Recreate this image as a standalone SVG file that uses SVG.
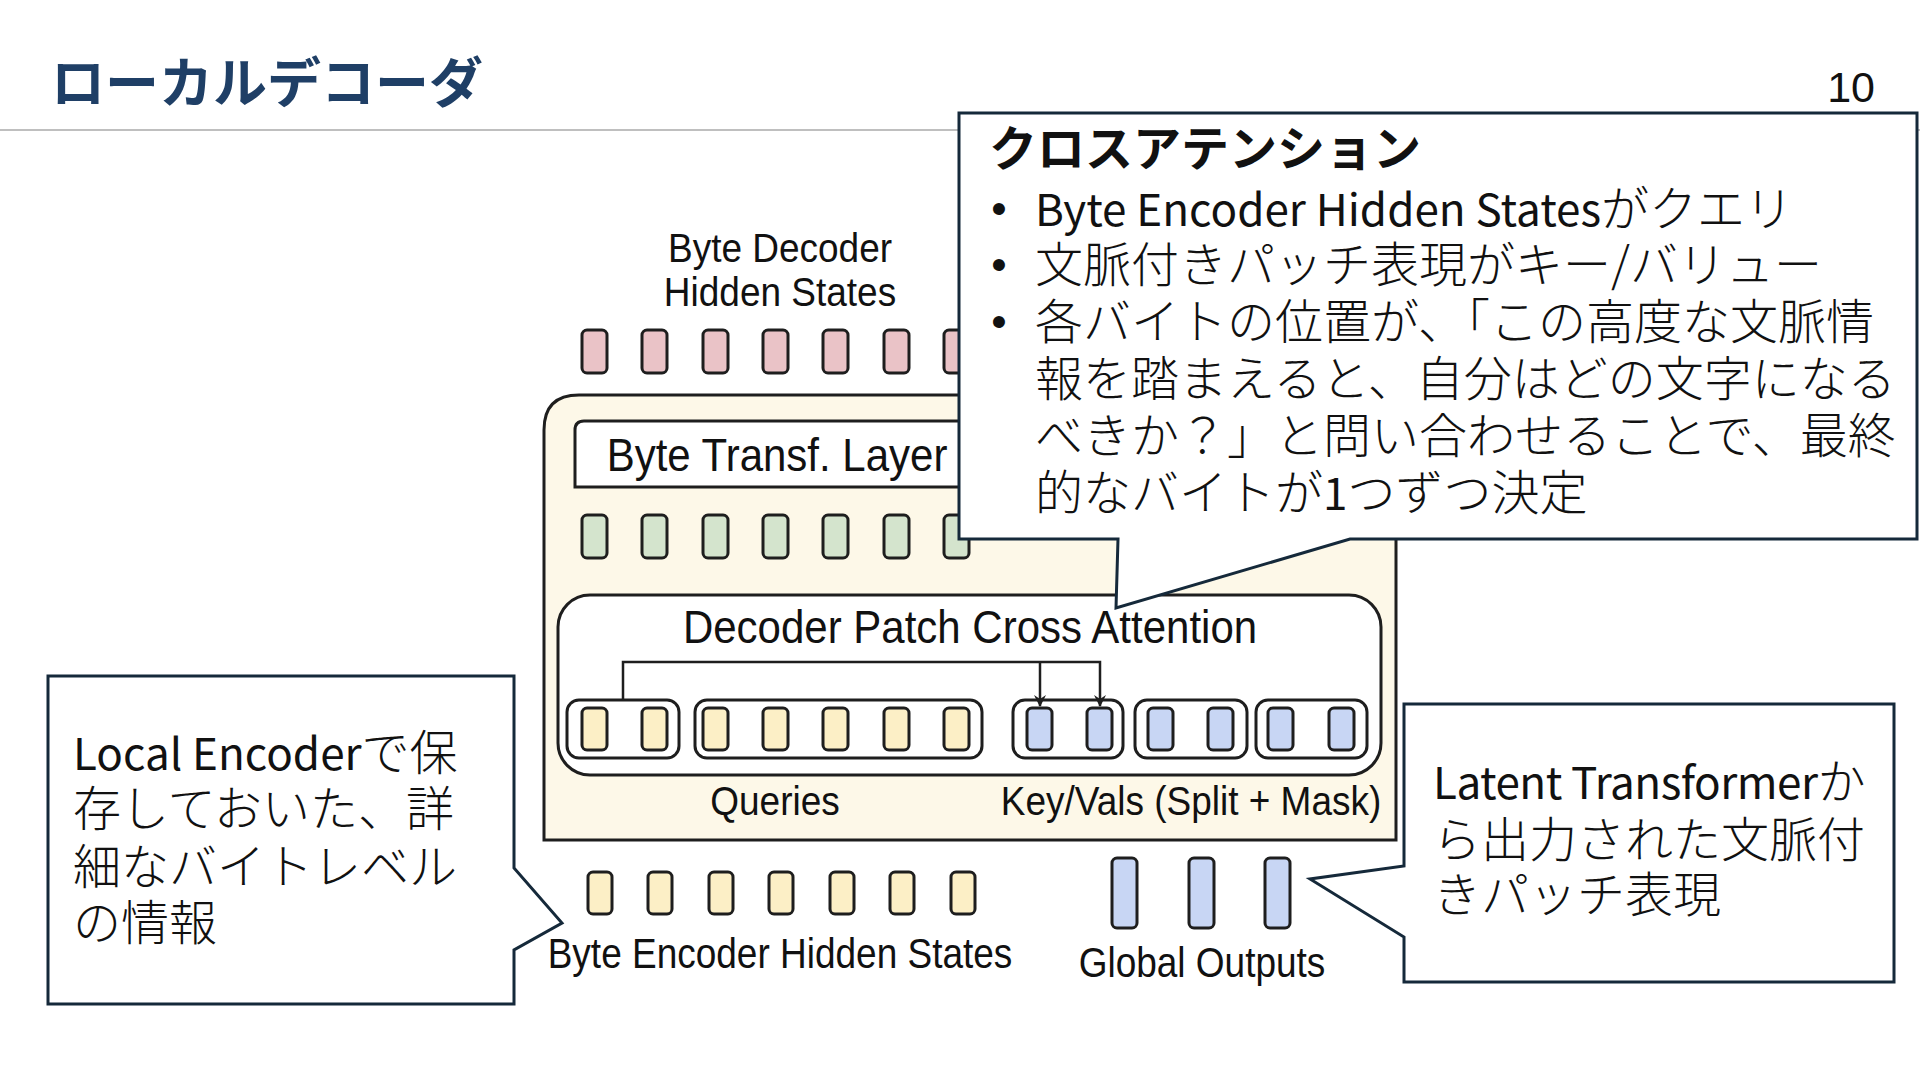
<svg xmlns="http://www.w3.org/2000/svg" width="1920" height="1080" viewBox="0 0 1920 1080">
<defs>
<style>
.jp{font-family:"Noto Sans CJK JP","Noto Sans",sans-serif;fill:#111;}
.body{font-size:48px;font-weight:300;}
.lat{font-size:44px;font-weight:400;}
.fig{font-family:"Liberation Sans",Arial,sans-serif;fill:#111;text-anchor:middle;}
.tok{stroke:#1e1e1e;stroke-width:3;}
.pink{fill:#eac3c7;}
.green{fill:#d4e4cd;}
.yellow{fill:#fcefc6;}
.blue{fill:#c8d6f4;}
.grp{fill:none;stroke:#1e1e1e;stroke-width:3;}
.callout{fill:#fff;stroke:#15293a;stroke-width:3;stroke-linejoin:miter;}
.conn{fill:none;stroke:#1e1e1e;stroke-width:2.5;}
</style>
<marker id="arr" markerWidth="12" markerHeight="12" refX="11" refY="6" orient="auto" markerUnits="userSpaceOnUse">
<path d="M0,0 L12,6 L0,12 L4,6 z" fill="#1e1e1e"/>
</marker>
</defs>
<rect width="1920" height="1080" fill="#fff"/>

<g id="title">
<text class="jp" x="51" y="103" font-size="54" font-weight="700" style="fill:#1f3f66">ローカルデコーダ</text>
<line x1="0" y1="130" x2="1920" y2="130" stroke="#bfbfbf" stroke-width="2"/>
<text x="1875" y="102" font-family="'Liberation Sans',Arial,sans-serif" font-size="43" text-anchor="end" fill="#111">10</text>
</g>

<g id="decoder-hidden-states">
<text class="fig" font-size="37" transform="translate(780,262) scale(1,1.1)">Byte Decoder</text>
<text class="fig" font-size="37" transform="translate(780,306) scale(1,1.1)">Hidden States</text>
<rect class="tok pink" x="582" y="330" width="25" height="43" rx="5"/>
<rect class="tok pink" x="642" y="330" width="25" height="43" rx="5"/>
<rect class="tok pink" x="703" y="330" width="25" height="43" rx="5"/>
<rect class="tok pink" x="763" y="330" width="25" height="43" rx="5"/>
<rect class="tok pink" x="823" y="330" width="25" height="43" rx="5"/>
<rect class="tok pink" x="884" y="330" width="25" height="43" rx="5"/>
<rect class="tok pink" x="944" y="330" width="25" height="43" rx="5"/>
</g>

<g id="local-decoder">
<path d="M544,840 V430 Q544,395 579,395 H1396 V840 Z" fill="#fdf8e8" stroke="#1e1e1e" stroke-width="3"/>
<g id="byte-transf-layer">
<path d="M575,487 V430 Q575,421 584,421 H1120 V487 Z" fill="#fff" stroke="#1e1e1e" stroke-width="3"/>
<text class="fig" font-size="42" transform="translate(777,471) scale(1,1.08)">Byte Transf. Layer</text>
</g>
<g id="transf-outputs">
<rect class="tok green" x="582" y="515" width="25" height="43" rx="5"/>
<rect class="tok green" x="642" y="515" width="25" height="43" rx="5"/>
<rect class="tok green" x="703" y="515" width="25" height="43" rx="5"/>
<rect class="tok green" x="763" y="515" width="25" height="43" rx="5"/>
<rect class="tok green" x="823" y="515" width="25" height="43" rx="5"/>
<rect class="tok green" x="884" y="515" width="25" height="43" rx="5"/>
<rect class="tok green" x="944" y="515" width="25" height="43" rx="5"/>
</g>
<g id="cross-attention">
<rect x="558" y="595" width="823" height="180" rx="32" fill="#fff" stroke="#1e1e1e" stroke-width="3"/>
<text class="fig" font-size="42" transform="translate(970,643) scale(1,1.08)">Decoder Patch Cross Attention</text>
<g id="queries">
<rect class="grp" x="567" y="700" width="112" height="58" rx="12"/>
<rect class="grp" x="695" y="700" width="287" height="58" rx="12"/>
<rect class="tok yellow" x="582" y="708" width="25" height="42" rx="5"/>
<rect class="tok yellow" x="642" y="708" width="25" height="42" rx="5"/>
<rect class="tok yellow" x="703" y="708" width="25" height="42" rx="5"/>
<rect class="tok yellow" x="763" y="708" width="25" height="42" rx="5"/>
<rect class="tok yellow" x="823" y="708" width="25" height="42" rx="5"/>
<rect class="tok yellow" x="884" y="708" width="25" height="42" rx="5"/>
<rect class="tok yellow" x="944" y="708" width="25" height="42" rx="5"/>
</g>
<g id="keyvals">
<rect class="grp" x="1013" y="700" width="110" height="58" rx="12"/>
<rect class="grp" x="1135" y="700" width="112" height="58" rx="12"/>
<rect class="grp" x="1256" y="700" width="111" height="58" rx="12"/>
<rect class="tok blue" x="1027" y="708" width="25" height="42" rx="5"/>
<rect class="tok blue" x="1087" y="708" width="25" height="42" rx="5"/>
<rect class="tok blue" x="1148" y="708" width="25" height="42" rx="5"/>
<rect class="tok blue" x="1208" y="708" width="25" height="42" rx="5"/>
<rect class="tok blue" x="1268" y="708" width="25" height="42" rx="5"/>
<rect class="tok blue" x="1329" y="708" width="25" height="42" rx="5"/>
</g>
</g>
<text class="fig" font-size="37" transform="translate(775,815) scale(1,1.12)">Queries</text>
<text class="fig" font-size="37" transform="translate(1191,815) scale(1,1.12)">Key/Vals (Split + Mask)</text>
</g>

<g id="connectors">
<path class="conn" d="M623,700 V662 H1100 V706" marker-end="url(#arr)"/>
<path class="conn" d="M1040,662 V706" marker-end="url(#arr)"/>
</g>

<g id="encoder-hidden-states">
<rect class="tok yellow" x="588" y="872" width="24" height="42" rx="5"/>
<rect class="tok yellow" x="648" y="872" width="24" height="42" rx="5"/>
<rect class="tok yellow" x="709" y="872" width="24" height="42" rx="5"/>
<rect class="tok yellow" x="769" y="872" width="24" height="42" rx="5"/>
<rect class="tok yellow" x="830" y="872" width="24" height="42" rx="5"/>
<rect class="tok yellow" x="890" y="872" width="24" height="42" rx="5"/>
<rect class="tok yellow" x="951" y="872" width="24" height="42" rx="5"/>
<text class="fig" font-size="37" transform="translate(780,968) scale(1,1.14)">Byte Encoder Hidden States</text>
</g>

<g id="global-outputs">
<rect class="tok blue" x="1112" y="858" width="25" height="70" rx="5"/>
<rect class="tok blue" x="1189" y="858" width="25" height="70" rx="5"/>
<rect class="tok blue" x="1265" y="858" width="25" height="70" rx="5"/>
<text class="fig" font-size="37" transform="translate(1202,977) scale(1,1.14)">Global Outputs</text>
</g>

<g id="callout-cross-attention">
<path class="callout" d="M959,113 H1917 V539 H1350 L1116,608 L1118,539 H959 Z"/>
<text class="jp" x="989" y="166" font-size="48" font-weight="700">クロスアテンション</text>
<g font-family="'Liberation Sans',Arial,sans-serif" font-size="44" fill="#111" text-anchor="middle">
<text x="999" y="224">•</text>
<text x="999" y="280">•</text>
<text x="999" y="337">•</text>
</g>
<text class="jp body" x="1035" y="226"><tspan class="lat">Byte Encoder Hidden States</tspan>がクエリ</text>
<text class="jp body" x="1035" y="282">文脈付きパッチ表現がキー/バリュー</text>
<text class="jp body" x="1035" y="339">各バイトの位置が、「この高度な文脈情</text>
<text class="jp body" x="1035" y="396">報を踏まえると、自分はどの文字になる</text>
<text class="jp body" x="1035" y="453">べきか？」と問い合わせることで、最終</text>
<text class="jp body" x="1035" y="510">的なバイトが<tspan class="lat">1</tspan>つずつ決定</text>
</g>

<g id="callout-local-encoder">
<path class="callout" d="M48,676 H514 V868 L562,923 L514,950 V1004 H48 Z"/>
<text class="jp body" x="73" y="770"><tspan class="lat">Local Encoder</tspan>で保</text>
<text class="jp body" x="73" y="826">存しておいた、詳</text>
<text class="jp body" x="73" y="884">細なバイトレベル</text>
<text class="jp body" x="73" y="940">の情報</text>
</g>

<g id="callout-latent-transformer">
<path class="callout" d="M1404,704 H1894 V982 H1404 V937 L1310,879 L1404,866 Z"/>
<text class="jp body" x="1433" y="799"><tspan class="lat" letter-spacing="-0.5">Latent Transformer</tspan>か</text>
<text class="jp body" x="1433" y="857">ら出力された文脈付</text>
<text class="jp body" x="1433" y="912">きパッチ表現</text>
</g>
</svg>
